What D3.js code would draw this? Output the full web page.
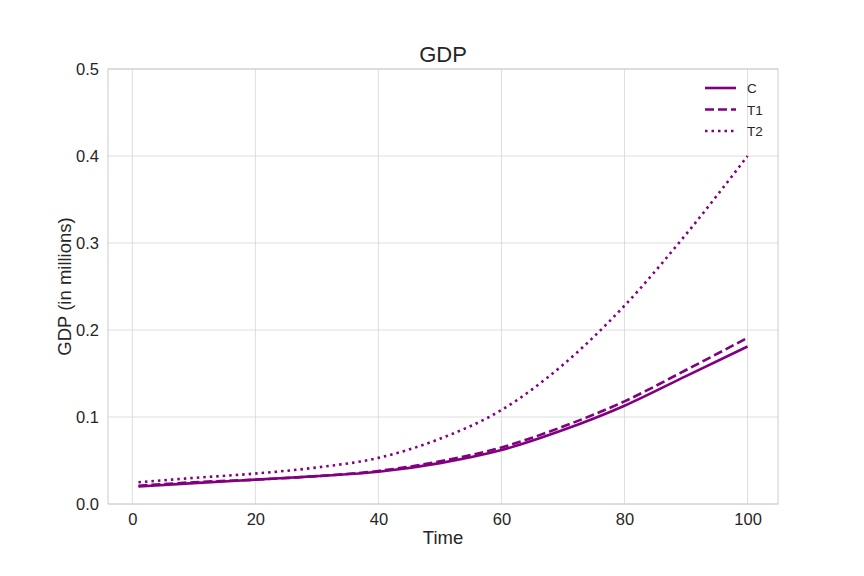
<!DOCTYPE html>
<html lang="en">
<head>
<meta charset="UTF-8">
<title>GDP</title>
<script src="https://cdnjs.cloudflare.com/ajax/libs/d3/7.6.1/d3.min.js"></script>
<style>
  body { margin: 0; background: #fff; font-family: Arial, "Liberation Sans", sans-serif; }
</style>
</head>
<body>
<div id="chart"></div>
<script>
const times = [1, 10, 20, 30, 40, 50, 60, 70, 80, 90, 100];
const gdpC  = [0.020, 0.024, 0.028, 0.032, 0.037, 0.047, 0.062, 0.085, 0.113, 0.147, 0.181];
const gdpT1 = [0.021, 0.025, 0.028, 0.032, 0.038, 0.049, 0.065, 0.089, 0.118, 0.154, 0.191];
const gdpT2 = [0.025, 0.030, 0.035, 0.042, 0.053, 0.075, 0.108, 0.160, 0.228, 0.310, 0.400];
const seriesNames = ["C", "T1", "T2"];
const yTicks = [0, 0.1, 0.2, 0.3, 0.4, 0.5];
const xTicks = [0, 20, 40, 60, 80, 100];

const width = 864, height = 576;
const m = { left: 108, right: 86, top: 69, bottom: 72 };

const svg = d3.select("#chart").append("svg")
  .attr("width", width).attr("height", height);

const x = d3.scaleLinear().domain([-3.95, 104.95]).range([m.left, width - m.right]);
const y = d3.scaleLinear().domain([0, 0.5]).range([height - m.bottom, m.top]);

// grid
svg.append("g").selectAll("line").data(xTicks).enter().append("line")
  .attr("x1", d => x(d)).attr("x2", d => x(d))
  .attr("y1", m.top).attr("y2", height - m.bottom)
  .attr("stroke", "#d5d5d5").attr("stroke-width", 0.8);
svg.append("g").selectAll("line").data(yTicks).enter().append("line")
  .attr("y1", d => y(d)).attr("y2", d => y(d))
  .attr("x1", m.left).attr("x2", width - m.right)
  .attr("stroke", "#d5d5d5").attr("stroke-width", 0.8);

svg.append("rect")
  .attr("x", m.left).attr("y", m.top)
  .attr("width", width - m.left - m.right).attr("height", height - m.top - m.bottom)
  .attr("fill", "none").attr("stroke", "#cccccc").attr("stroke-width", 1);

// axes
const xAxis = svg.append("g").attr("transform", `translate(0,${height - m.bottom})`)
  .call(d3.axisBottom(x).tickValues(xTicks).tickSize(0).tickPadding(9));
const yAxis = svg.append("g").attr("transform", `translate(${m.left},0)`)
  .call(d3.axisLeft(y).tickValues(yTicks).tickFormat(d3.format(".1f")).tickSize(0).tickPadding(9));
[xAxis, yAxis].forEach(a => {
  a.select(".domain").remove();
  a.selectAll("text").attr("font-size", 16.5).attr("fill", "#262626")
    .attr("font-family", "Arial, 'Liberation Sans', sans-serif");
});

// lines
const line = d3.line().x(d => x(d[0])).y(d => y(d[1])).curve(d3.curveMonotoneX);
const dashes = [null, "9,4", "2.5,4"];
const allSeries = [gdpC, gdpT1, gdpT2];
allSeries.forEach((vals, i) => {
  svg.append("path")
    .datum(times.map((t, j) => [t, vals[j]]))
    .attr("d", line)
    .attr("fill", "none")
    .attr("stroke", "#800080")
    .attr("stroke-width", 2.6)
    .attr("stroke-dasharray", dashes[i]);
});

// title and labels
svg.append("text").attr("x", (m.left + width - m.right) / 2).attr("y", 62)
  .attr("text-anchor", "middle").attr("font-size", 22).attr("fill", "#262626").text("GDP");
svg.append("text").attr("x", (m.left + width - m.right) / 2).attr("y", 544)
  .attr("text-anchor", "middle").attr("font-size", 18.5).attr("fill", "#262626").text("Time");
svg.append("text")
  .attr("transform", `translate(71,${(m.top + height - m.bottom) / 2}) rotate(-90)`)
  .attr("text-anchor", "middle").attr("font-size", 18.5).attr("fill", "#262626").text("GDP (in millions)");

// legend
const lg = svg.append("g").attr("transform", "translate(705,88)");
seriesNames.forEach((name, i) => {
  lg.append("line").attr("x1", 0).attr("x2", 31).attr("y1", i * 21.5).attr("y2", i * 21.5)
    .attr("stroke", "#800080").attr("stroke-width", 2.6).attr("stroke-dasharray", dashes[i]);
  lg.append("text").attr("x", 42).attr("y", i * 21.5 + 5)
    .attr("font-size", 13.5).attr("fill", "#262626").text(name);
});
</script>
</body>
</html>
